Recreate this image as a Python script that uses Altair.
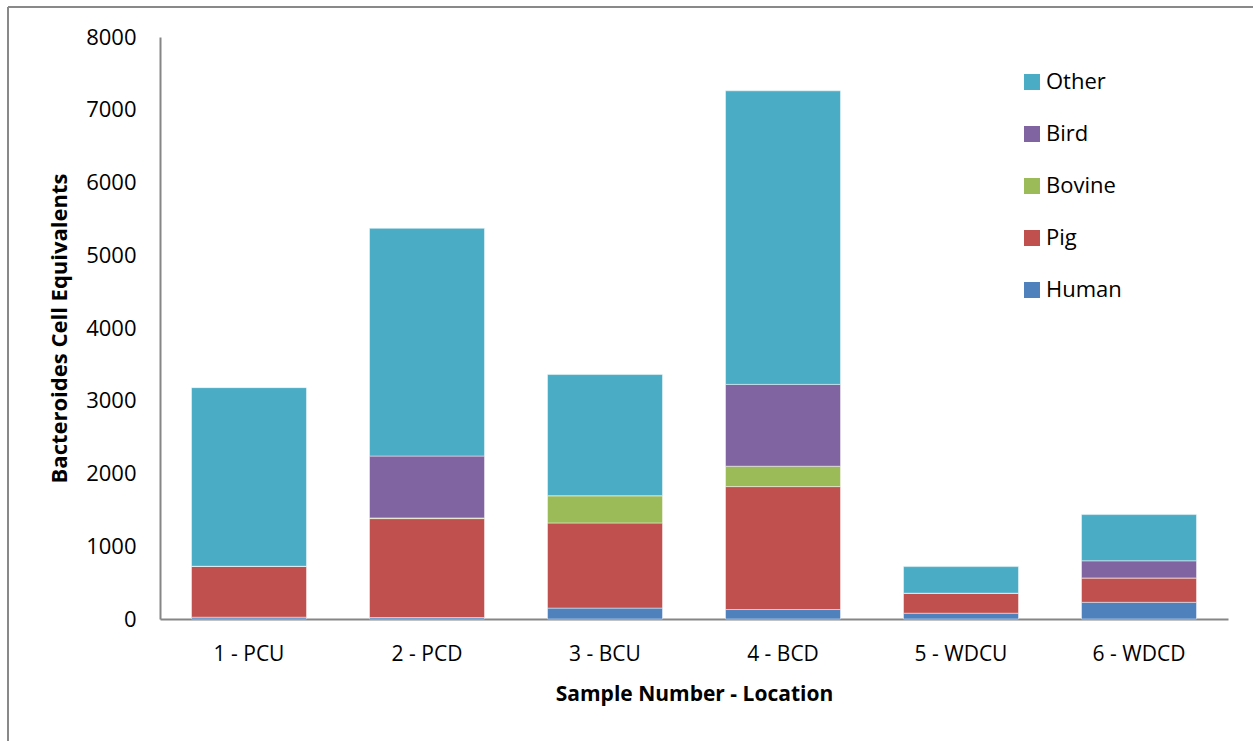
import altair as alt
import pandas as pd

# Bacteroides cell equivalents by host source at each sampling location
samples = ["1 - PCU", "2 - PCD", "3 - BCU", "4 - BCD", "5 - WDCU", "6 - WDCD"]
human = [25, 20, 150, 130, 80, 230]
pig = [700, 1360, 1170, 1690, 275, 335]
bovine = [0, 10, 375, 280, 0, 0]
bird = [0, 850, 0, 1125, 0, 235]
other = [2455, 3130, 1665, 4035, 365, 635]

sources = ["Human", "Pig", "Bovine", "Bird", "Other"]
colors = ["#4F81BD", "#C0504D", "#9BBB59", "#8064A2", "#4BACC6"]
series = {"Human": human, "Pig": pig, "Bovine": bovine, "Bird": bird, "Other": other}

rows = []
for src_idx, src in enumerate(sources):
    for s, v in zip(samples, series[src]):
        rows.append({"Sample": s, "Source": src, "Value": v, "order": src_idx})
df = pd.DataFrame(rows)

FONT = "Open Sans"
W, H = 1068, 582

bars = alt.Chart(df).mark_bar(
    stroke="white", strokeWidth=1, strokeOpacity=0.45
).encode(
    x=alt.X(
        "Sample:N",
        sort=samples,
        scale=alt.Scale(paddingInner=0.354, paddingOuter=0.177),
        axis=alt.Axis(
            title="Sample Number - Location",
            labelAngle=0,
            ticks=False,
            labelPadding=24,
            labelFontSize=21,
            labelColor="#000000",
            titleFontSize=21,
            titleFontWeight="bold",
            titleColor="#000000",
            titlePadding=19,
            domainColor="#868686",
            domainWidth=2,
        ),
    ),
    y=alt.Y(
        "Value:Q",
        stack="zero",
        scale=alt.Scale(domain=[0, 8000], nice=False),
        axis=alt.Axis(
            title="Bacteroides Cell Equivalents",
            values=list(range(0, 8001, 1000)),
            format="d",
            ticks=False,
            grid=False,
            labelPadding=24,
            labelFontSize=22,
            labelColor="#000000",
            titleFontSize=22,
            titleFontWeight="bold",
            titleColor="#000000",
            titlePadding=14,
            domainColor="#868686",
            domainWidth=2,
        ),
    ),
    color=alt.Color(
        "Source:N",
        sort=sources[::-1],
        scale=alt.Scale(domain=sources[::-1], range=colors[::-1]),
        legend=alt.Legend(
            title=None,
            orient="none",
            legendX=861,
            legendY=34,
            symbolType="square",
            symbolSize=256,
            symbolStrokeWidth=0,
            labelFontSize=22,
            labelColor="#000000",
            labelOffset=3,
            rowPadding=30,
            padding=0,
        ),
    ),
    order=alt.Order("order:Q", sort="ascending"),
)

# outer frame of the chart
frame_left = alt.Chart(df).mark_rule(color="#898989", strokeWidth=2).encode(
    x=alt.value(-152), y=alt.value(-30), y2=alt.value(H + 200)
)
frame_top = alt.Chart(df).mark_rule(color="#898989", strokeWidth=2).encode(
    x=alt.value(-152), x2=alt.value(W + 200), y=alt.value(-30)
)

chart = alt.layer(bars, frame_left, frame_top).properties(
    width=W,
    height=H,
    autosize=alt.AutoSizeParams(type="none"),
    padding={"left": 160, "top": 37, "right": 25, "bottom": 122},
).configure(
    font=FONT,
    background="white",
).configure_view(
    stroke=None
)

chart.save("out.html", embed_options={"renderer": "svg", "actions": False})
